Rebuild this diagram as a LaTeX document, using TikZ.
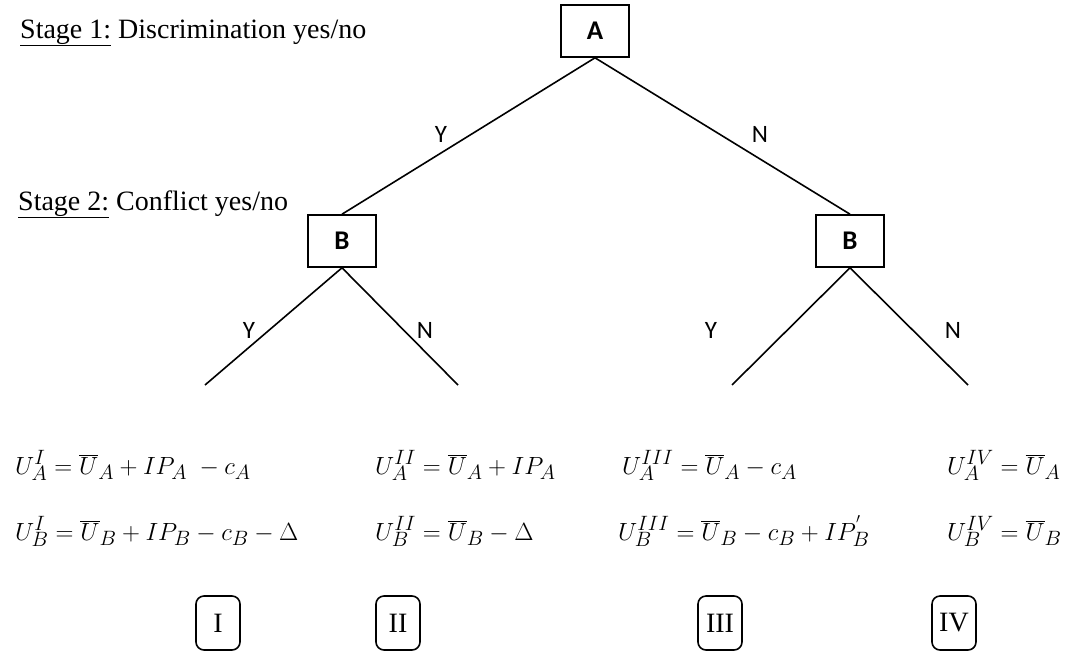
\documentclass[tikz,border=0pt]{standalone}
\usepackage{fontspec}
\setmainfont{Liberation Serif}
\newfontfamily\calibri{Carlito}
\usetikzlibrary{positioning}
\tikzset{
  decbox/.style={draw, line width=1.6pt, minimum width=68pt, minimum height=52pt, inner sep=0pt, font=\calibri\bfseries\fontsize{27}{32}\selectfont},
  branch/.style={line width=1.6pt},
  yn/.style={font=\calibri\fontsize{25}{30}\selectfont, inner sep=0pt},
  stagetxt/.style={anchor=base west, inner sep=0pt, font=\fontsize{28}{34}\selectfont},
  eq/.style={anchor=base west, inner sep=0pt, font=\fontsize{30}{36}\selectfont},
  outbox/.style={draw, line width=1.6pt, rounded corners=8pt, minimum width=44pt, minimum height=54pt, inner sep=0pt, font=\fontsize{28}{34}\selectfont}
}
\begin{document}
\begin{tikzpicture}[x=1pt,y=-1pt]
\useasboundingbox (0,0) rectangle (1067,659);
% stage labels
\node[stagetxt] (s1) at (20,38) {\underline{Stage 1:} Discrimination yes/no};
\node[stagetxt] (s2) at (18,210) {\underline{Stage 2:} Conflict yes/no};
% decision nodes
\node[decbox] (A) at (595,31) {A};
\node[decbox] (BL) at (342,241) {B};
\node[decbox] (BR) at (850,241) {B};
% leaf ends
\coordinate (L1) at (205,385);
\coordinate (L2) at (458,385);
\coordinate (L3) at (732,385);
\coordinate (L4) at (968,385);
% branches
\draw[branch] (A.south) -- (BL.north);
\draw[branch] (A.south) -- (BR.north);
\draw[branch] (BL.south) -- (L1);
\draw[branch] (BL.south) -- (L2);
\draw[branch] (BR.south) -- (L3);
\draw[branch] (BR.south) -- (L4);
% branch labels
\node[yn] (y1) at (441,134) {Y};
\node[yn] (n1) at (760,134) {N};
\node[yn] (y2) at (249,330) {Y};
\node[yn] (n2) at (425,330) {N};
\node[yn] (y3) at (711,330) {Y};
\node[yn] (n3) at (953,330) {N};
% payoffs
\node[eq] (eA1) at (15,474) {$U_A^{I}=\overline{U}_A+IP_A\;-c_A$};
\node[eq] (eB1) at (15,540) {$U_B^{I}=\overline{U}_B+IP_B-c_B-\Delta$};
\node[eq] (eA2) at (375,474) {$U_A^{II}=\overline{U}_A+IP_A$};
\node[eq] (eB2) at (375,540) {$U_B^{II}=\overline{U}_B-\Delta$};
\node[eq] (eA3) at (622,474) {$U_A^{III}=\overline{U}_A-c_A$};
\node[eq] (eB3) at (618,540) {$U_B^{III}=\overline{U}_B-c_B+IP_B^{'}$};
\node[eq] (eA4) at (947,474) {$U_A^{IV}=\overline{U}_A$};
\node[eq] (eB4) at (947,540) {$U_B^{IV}=\overline{U}_B$};
% outcome boxes
\node[outbox] (o1) at (218,623) {I};
\node[outbox] (o2) at (398,623) {II};
\node[outbox] (o3) at (720,623) {III};
\node[outbox] (o4) at (954,623) {IV};
\end{tikzpicture}
\end{document}
